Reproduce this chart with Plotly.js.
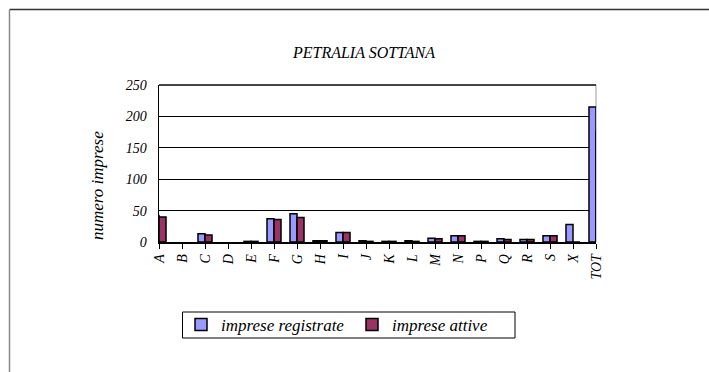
<!DOCTYPE html>
<html>
<head>
<meta charset="utf-8">
<script src="https://cdn.plot.ly/plotly-3.0.1.min.js"></script>
<style>body{margin:0;background:#fff}#chart{width:709px;height:372px}</style>
</head>
<body>
<div id="chart"></div>
<script>
var categories = ["A","B","C","D","E","F","G","H","I","J","K","L","M","N","P","Q","R","S","X","TOT"];
var impreseRegistrate = [42,null,13,null,1,37,45,2,15,2,1,2,6,10,1,5,4,10,28,215];
var impreseAttive = [40,null,11,null,1,36,39,2,15,1,1,1,5,10,1,4,4,10,0,176];
var yTicks = [0,50,100,150,200,250];

var FONT = "'Liberation Serif', 'DejaVu Serif', 'Times New Roman', Times, serif";
var idx = categories.map(function(c,i){return i;});

// pixel helpers for the plot area (l=159, r=596, top=85, bottom=242)
function px(x){return (x-159)/437;}
function py(y){return (242-y)/157;}

var traces = [
  {type:"bar", name:"imprese registrate", x:idx, y:impreseRegistrate,
   marker:{color:"#9999FF", line:{color:"#000", width:1.5}}},
  {type:"bar", name:"imprese attive", x:idx, y:impreseAttive,
   marker:{color:"#993366", line:{color:"#000", width:1.5}}}
];

var layout = {
  width:709, height:372,
  margin:{l:159, r:113, t:85, b:130},
  paper_bgcolor:"#fff", plot_bgcolor:"#fff",
  font:{family:FONT, color:"#000", style:"italic"},
  title:{text:"PETRALIA SOTTANA", font:{family:FONT, size:16, style:"italic", color:"#000"},
         x:364/709, xref:"container", xanchor:"center", y:1-52/372, yanchor:"middle"},
  barmode:"group", bargap:0.39, bargroupgap:0,
  showlegend:true,
  legend:{orientation:"h", x:px(181), xanchor:"left", y:py(325), yanchor:"middle",
          borderwidth:0, bgcolor:"rgba(0,0,0,0)",
          font:{family:FONT, size:17, style:"italic", color:"#000"},
          entrywidth:126, traceorder:"normal"},
  xaxis:{range:[0,19], tickmode:"array", tickvals:idx, ticktext:categories,
         tickangle:-90, ticks:"outside", ticklen:5, tickcolor:"#000", tickwidth:1,
         showline:true, linecolor:"#000", linewidth:1.5, showgrid:false, zeroline:false,
         tickfont:{family:FONT, size:14, style:"italic", color:"#000"}, fixedrange:true},
  yaxis:{range:[0,250], tickmode:"array", tickvals:yTicks, ticks:"", ticklabelstandoff:8,
         showline:true, linecolor:"#000", linewidth:1.5, showgrid:true, gridcolor:"#000", gridwidth:1,
         zeroline:false,
         tickfont:{family:FONT, size:14, style:"italic", color:"#000"},
         fixedrange:true},
  annotations:[
    {text:"numero imprese", xref:"paper", yref:"paper", x:px(97), y:py(186),
     xanchor:"center", yanchor:"middle", textangle:-90, showarrow:false,
     font:{family:FONT, size:17, style:"italic", color:"#000"}}
  ],
  shapes:[
    {type:"line", xref:"paper", yref:"paper", x0:0, x1:1, y0:1, y1:1, line:{color:"#444", width:2}},
    {type:"line", xref:"paper", yref:"paper", x0:1, x1:1, y0:0, y1:1, line:{color:"#999", width:1}, layer:"below"},
    {type:"line", xref:"paper", yref:"paper", x0:px(9.5), x1:px(720), y0:py(9.5), y1:py(9.5), line:{color:"#333", width:1.5}},
    {type:"line", xref:"paper", yref:"paper", x0:px(9.5), x1:px(9.5), y0:py(9.5), y1:py(390), line:{color:"#888", width:1.5}},
    {type:"rect", xref:"paper", yref:"paper", x0:px(182.5), x1:px(515), y0:py(312), y1:py(338), line:{color:"#000", width:1}, fillcolor:"rgba(0,0,0,0)"}
  ]
};

Plotly.newPlot("chart", traces, layout, {displayModeBar:false, staticPlot:true});
</script>
</body>
</html>
